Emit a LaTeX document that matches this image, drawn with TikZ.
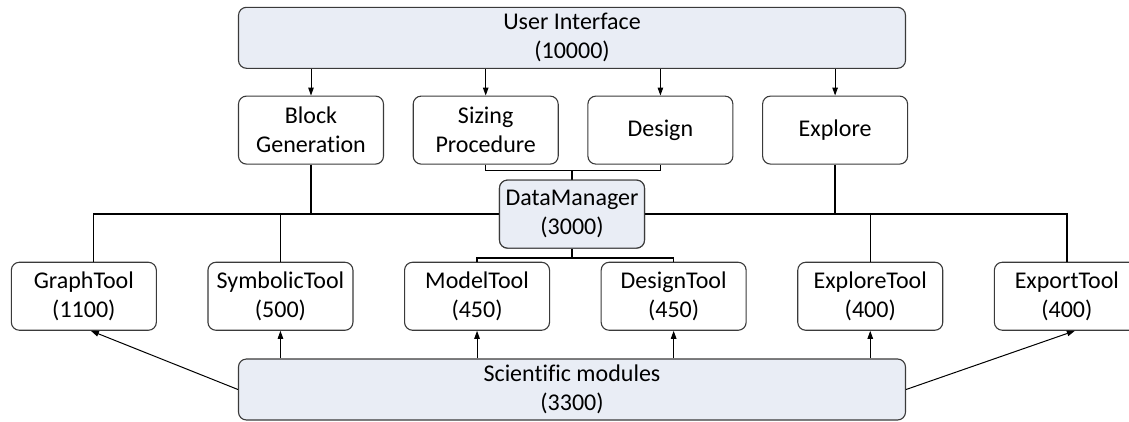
\documentclass[tikz,border=0pt]{standalone}
\usepackage{fontspec}
\setmainfont{Carlito}[Ligatures={NoCommon}]
\usepackage{xcolor}
\usetikzlibrary{arrows.meta,positioning}
\definecolor{modfill}{HTML}{E9EDF5}
\definecolor{modline}{HTML}{3A3A3A}

\begin{document}
\begin{tikzpicture}[
  box/.style={rectangle, rounded corners=8pt, draw=modline, line width=1.1pt,
              fill=white, align=center, minimum width=145pt, minimum height=68pt,
              inner sep=2pt, font=\fontsize{24pt}{29pt}\selectfont},
  wide/.style={box, fill=modfill, minimum width=667pt, minimum height=61pt},
  hub/.style={box, fill=modfill},
  link/.style={line width=1.3pt, draw=black},
  arr/.style={-{Triangle[length=8pt,width=5.5pt]}, line width=1pt, draw=black},
]
  \useasboundingbox (0pt,0pt) rectangle (1129pt,-421pt);

  % top layer
  \node[wide] (ui) at (572pt,-37.8pt) {User Interface\\(10000)};
  \node[box, below=26.7pt of ui.south west, anchor=north west] (block) {Block\\Generation};
  \node[box, right=28.6pt of block] (sizing) {Sizing\\Procedure};
  \node[box, right=28.6pt of sizing] (design) {Design};
  \node[box, right=28.6pt of design] (explore) {Explore};

  % data manager in the middle
  \node[hub, below=110.7pt of ui] (dm) {DataManager\\(3000)};

  % tools
  \node[box, anchor=north west] (graph) at (10.8pt,-261.7pt) {GraphTool\\(1100)};
  \node[box, right=50.5pt of graph] (symbolic) {SymbolicTool\\(500)};
  \node[box, right=50.5pt of symbolic] (model) {ModelTool\\(450)};
  \node[box, right=50.5pt of model] (designtool) {DesignTool\\(450)};
  \node[box, right=50.5pt of designtool] (exploretool) {ExploreTool\\(400)};
  \node[box, right=50.5pt of exploretool] (export) {ExportTool\\(400)};

  \node[wide] (sci) at (572pt,-389.5pt) {Scientific modules\\(3300)};

  \coordinate[below=5.6pt of sizing.south] (sdbar);
  \coordinate[below=9.4pt of dm.south] (mdbar);
  \coordinate (gtop) at ([xshift=9.5pt]graph.north);

  % UI to first row
  \foreach \n in {block,sizing,design,explore}
    \draw[arr] (ui.south -| \n.north) -- (\n.north);

  \draw[link] (gtop) |- (dm.center -| export.north) -- (export.north);
  \draw[link] (block.south) -- (block.south |- dm.center);
  \draw[link] (explore.south) -- (explore.south |- dm.center);
  \draw[link] (symbolic.north) -- (symbolic.north |- dm.center);
  \draw[link] (exploretool.north) -- (exploretool.north |- dm.center);

  \draw[link] (sizing.south) -- (sdbar) -| (design.south);
  \draw[link] (dm.north |- sdbar) -- (dm.north);
  \draw[link] (dm.south) -- (mdbar);
  \draw[link] (model.north) |- (mdbar) -| (designtool.north);

  % redraw the hub over the bar
  \node[hub] at (dm) {DataManager\\(3000)};

  % scientific modules up to tools
  \foreach \n in {symbolic,model,designtool,exploretool}
    \draw[arr] (sci.north -| \n.south) -- (\n.south);
  \draw[arr] (sci.west) -- ([xshift=7pt]graph.south);
  \draw[arr] (sci.east) -- ([xshift=8pt]export.south);
\end{tikzpicture}
\end{document}
